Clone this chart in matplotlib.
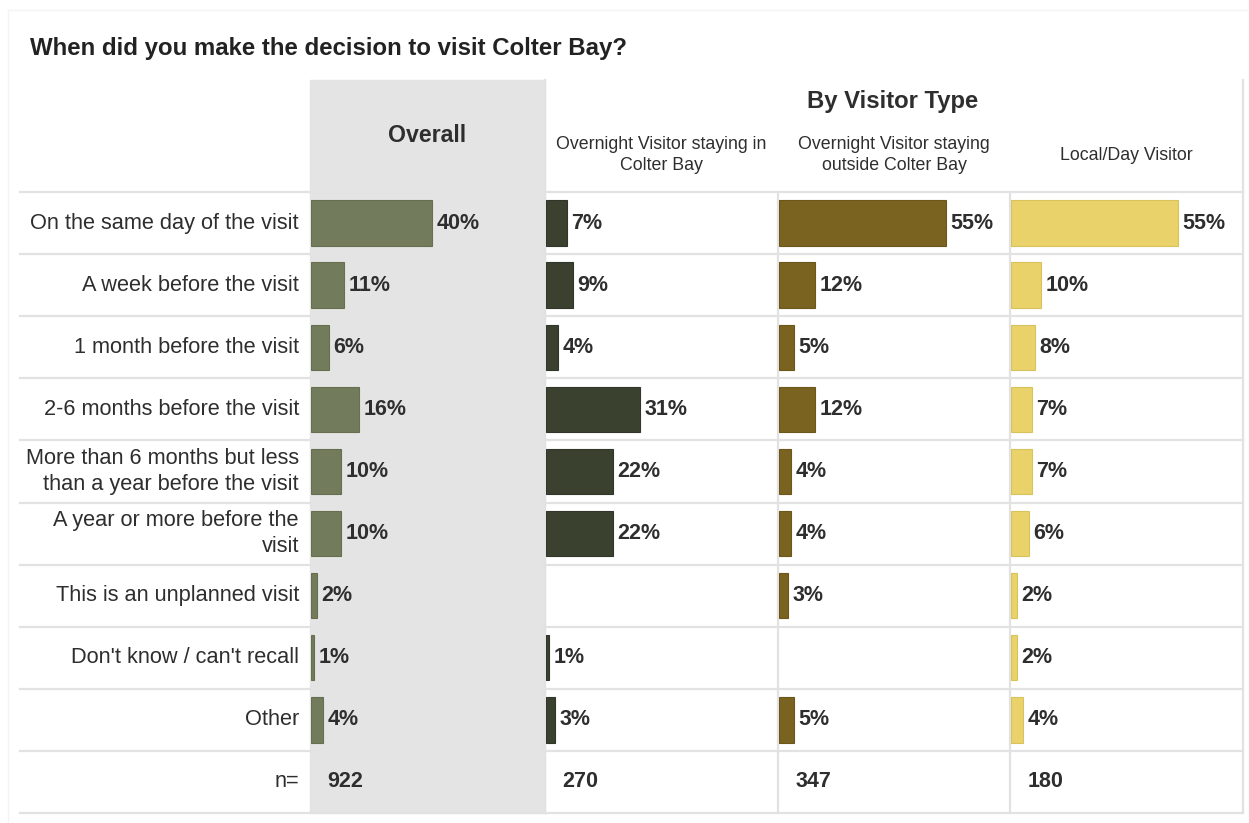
import matplotlib.pyplot as plt
from matplotlib.patches import Rectangle

plt.rcParams['font.family'] = ['Liberation Sans', 'DejaVu Sans']

TEXT = '#2e2e2e'
LINE = '#e2e2e2'

categories = [
    "On the same day of the visit",
    "A week before the visit",
    "1 month before the visit",
    "2-6 months before the visit",
    "More than 6 months but less\nthan a year before the visit",
    "A year or more before the\nvisit",
    "This is an unplanned visit",
    "Don't know / can't recall",
    "Other",
]
overall = [40, 11, 6, 16, 10, 10, 2, 1, 4]
stay_in = [7, 9, 4, 31, 22, 22, None, 1, 3]
stay_out = [55, 12, 5, 12, 4, 4, 3, None, 5]
local_day = [55, 10, 8, 7, 7, 6, 2, 2, 4]
n_counts = [922, 270, 347, 180]
panel_titles = ["Overnight Visitor staying in\nColter Bay",
                "Overnight Visitor staying\noutside Colter Bay",
                "Local/Day Visitor"]

series = [overall, stay_in, stay_out, local_day]
bar_colors = ['#737b5d', '#3a412f', '#7a6320', '#e9d26a']
edge_colors = ['#66704f', '#30372a', '#6c571b', '#d9c25c']

W, H = 1249, 823
fig = plt.figure(figsize=(W / 100, H / 100), dpi=100)

# background axes in pixel units for the table frame and headers
bg = fig.add_axes([0, 0, 1, 1])
bg.set_xlim(0, W)
bg.set_ylim(H, 0)
bg.axis('off')

row_top, row_bot = 192, 813
n_rows = len(categories) + 1
row_h = (row_bot - row_top) / n_rows
panel_left = [310, 545, 778, 1010]
panel_right = 1243
px_per_pct = 3.03

# faint outer frame
bg.plot([8, 8], [10, 821], color='#f4f4f4', lw=1)
bg.plot([8, 1247], [10, 10], color='#f4f4f4', lw=1)

# grey band behind the overall column
bg.add_patch(Rectangle((310, 80), 235, row_bot - 80, color='#e4e4e4', zorder=0))

# row separators (not drawn across the grey band)
for k in range(n_rows + 1):
    y = row_top + k * row_h
    bg.plot([20, 310], [y, y], color=LINE, lw=1.6, zorder=1)
    bg.plot([545, panel_right], [y, y], color=LINE, lw=1.6, zorder=1)
bg.plot([310, 545], [row_bot, row_bot], color=LINE, lw=1.6, zorder=1)

# column separators
bg.plot([545, 545], [80, row_bot], color=LINE, lw=1.6, zorder=1)
bg.plot([panel_right, panel_right], [80, row_bot], color=LINE, lw=1.6, zorder=1)
for x in panel_left[2:]:
    bg.plot([x, x], [row_top, row_bot], color=LINE, lw=1.6, zorder=1)

# titles and headers
bg.text(30, 48, "When did you make the decision to visit Colter Bay?",
        fontsize=17.3, fontweight='bold', color='#222222', va='center', ha='left')
bg.text(427, 135, "Overall", fontsize=16.7, fontweight='bold', color=TEXT,
        ha='center', va='center')
bg.text(893, 101, "By Visitor Type", fontsize=17.2, fontweight='bold', color=TEXT,
        ha='center', va='center')
for j, title in enumerate(panel_titles):
    x0 = panel_left[j + 1]
    x1 = panel_left[j + 2] if j + 2 < len(panel_left) else panel_right
    bg.text((x0 + x1) / 2, 155, title, fontsize=12.8, color=TEXT,
            ha='center', va='center', linespacing=1.3)

# row labels
for i, cat in enumerate(categories + ["n="]):
    bg.text(299, row_top + (i + 0.5) * row_h, cat, fontsize=15.7, color=TEXT,
            ha='right', va='center', linespacing=1.35)

# one bar panel per column
for j, vals in enumerate(series):
    x0 = panel_left[j] + 1
    x1 = panel_left[j + 1] if j + 1 < len(panel_left) else panel_right
    ax = fig.add_axes([x0 / W, 1 - row_bot / H, (x1 - x0) / W, (row_bot - row_top) / H])
    ax.set_xlim(0, (x1 - x0) / px_per_pct)
    ax.set_ylim(n_rows, 0)
    ax.axis('off')
    ax.patch.set_alpha(0)
    for i, v in enumerate(vals):
        if v is None:
            continue
        y = i + 0.5
        ax.barh(y, v, height=0.73, color=bar_colors[j], edgecolor=edge_colors[j],
                linewidth=0.8)
        ax.annotate(f"{v}%", (v, y), xytext=(3, 0), textcoords='offset points',
                    fontsize=15.5, fontweight='bold', color=TEXT, ha='left', va='center')
    ax.annotate(str(n_counts[j]), (0, n_rows - 0.5), xytext=(12, 0),
                textcoords='offset points', fontsize=15.5, fontweight='bold',
                color=TEXT, ha='left', va='center')

fig.savefig('out.png', dpi=100)
